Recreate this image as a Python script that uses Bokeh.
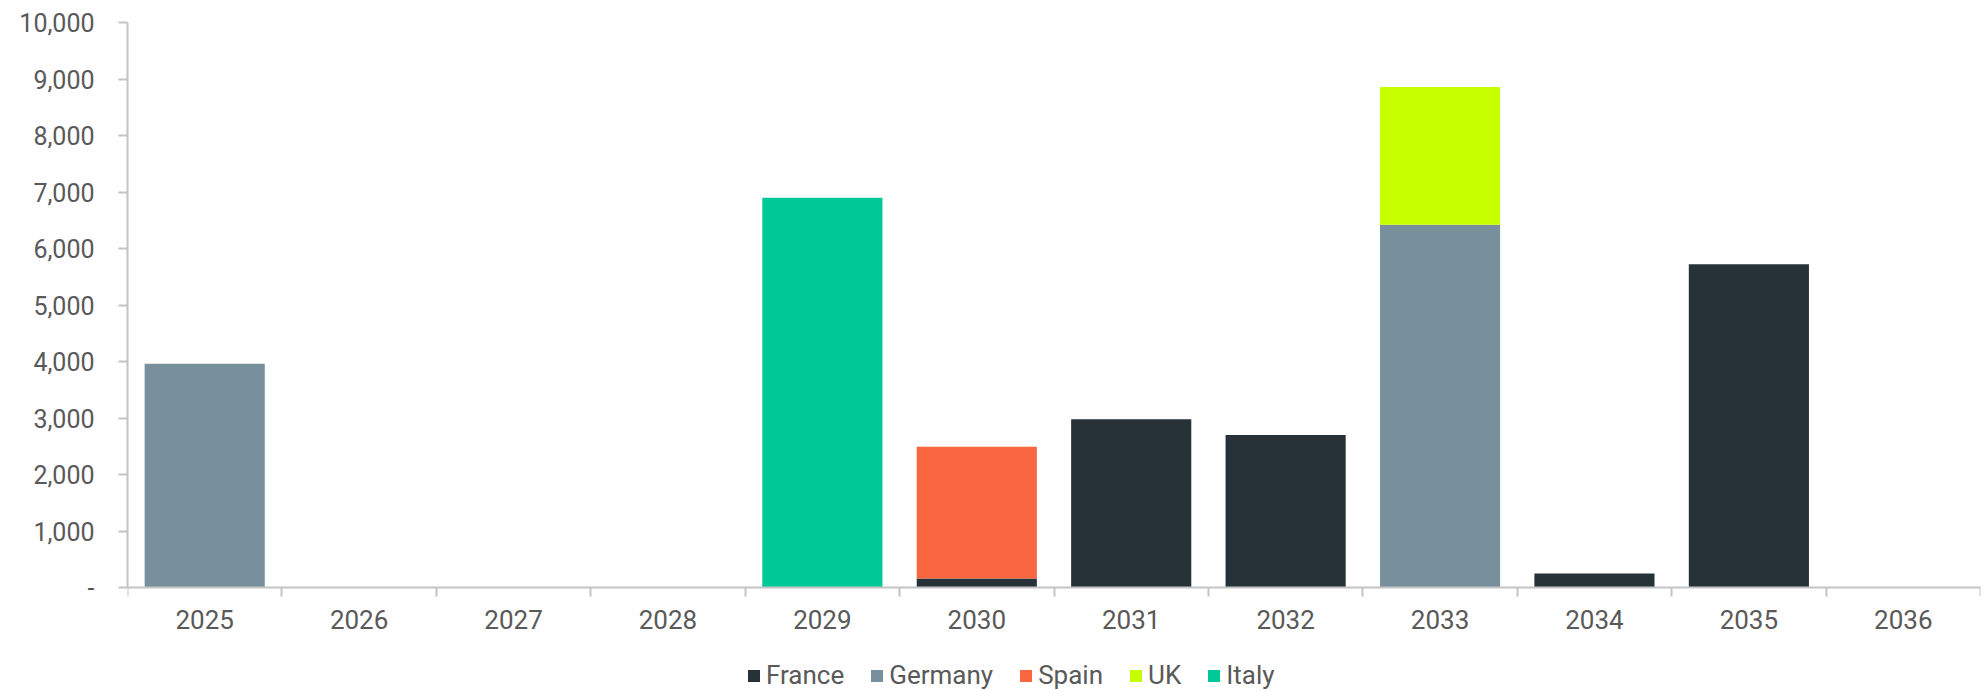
from bokeh.plotting import figure
from bokeh.models import ColumnDataSource, Range1d, FixedTicker, Legend, LegendItem
from bokeh.embed import file_html
from bokeh.resources import INLINE

# ---- data ----
years = ["2025", "2026", "2027", "2028", "2029", "2030",
         "2031", "2032", "2033", "2034", "2035", "2036"]
france = [0, 0, 0, 0, 0, 160, 2980, 2700, 0, 250, 5720, 0]
germany = [3960, 0, 0, 0, 0, 0, 0, 0, 6420, 0, 0, 0]
spain = [0, 0, 0, 0, 0, 2330, 0, 0, 0, 0, 0, 0]
uk = [0, 0, 0, 0, 0, 0, 0, 0, 2440, 0, 0, 0]
italy = [0, 0, 0, 0, 6900, 0, 0, 0, 0, 0, 0, 0]
series = ["France", "Germany", "Spain", "UK", "Italy"]
colors = ["#263238", "#78909c", "#f96640", "#c6ff00", "#00c896"]
y_ticks = [0, 1000, 2000, 3000, 4000, 5000, 6000, 7000, 8000, 9000, 10000]
y_max = 10000

FONT = "Roboto"
TXT = "#595959"
AXC = "#c4c4c4"

# layout (pixels)
W, H = 1984, 691
TOP, LEFT, RIGHT = 22, 127, 4
PLOT_H = 565            # height from value 0 to y_max
below = H - TOP - PLOT_H  # room under the zero line for labels + legend
y_start = -y_max * below / PLOT_H

n = len(years)
centers = [i + 0.5 for i in range(n)]
bounds = [float(i) for i in range(n + 1)]

source = ColumnDataSource(dict(x=centers, France=france, Germany=germany,
                               Spain=spain, UK=uk, Italy=italy))

p = figure(width=W, height=H, x_range=Range1d(0, n), y_range=Range1d(y_start, y_max),
           output_backend="svg", toolbar_location=None,
           min_border_left=LEFT, min_border_right=RIGHT, min_border_top=TOP,
           min_border_bottom=0)
p.outline_line_color = None
p.grid.visible = False
p.background_fill_color = "white"
p.border_fill_color = "white"

renderers = p.vbar_stack(series, x="x", width=0.778, color=colors,
                         line_color=None, source=source)

# x axis drawn on the zero line: labels at centers, ticks at category boundaries
xa = p.xaxis[0]
xa.fixed_location = 0
xa.ticker = FixedTicker(ticks=centers, minor_ticks=bounds)
xa.major_label_overrides = {c: y for c, y in zip(centers, years)}
xa.major_tick_out = 9
xa.major_tick_in = 0
xa.major_tick_line_color = None
xa.minor_tick_out = 9
xa.minor_tick_in = 0
xa.minor_tick_line_color = AXC
xa.minor_tick_line_width = 2
xa.axis_line_color = AXC
xa.axis_line_width = 2
xa.major_label_standoff = 13
xa.major_label_text_font = FONT
xa.major_label_text_font_size = "26px"
xa.major_label_text_color = TXT

ya = p.yaxis[0]
ya.bounds = (0, y_max)
ya.ticker = FixedTicker(ticks=y_ticks)
ya.major_label_overrides = {t: ("-" if t == 0 else f"{t:,}") for t in y_ticks}
ya.major_tick_out = 9
ya.major_tick_in = 0
ya.major_tick_line_color = AXC
ya.major_tick_line_width = 2
ya.minor_tick_line_color = None
ya.axis_line_color = AXC
ya.axis_line_width = 2
ya.major_label_standoff = 24
ya.major_label_text_font = FONT
ya.major_label_text_font_size = "25px"
ya.major_label_text_color = TXT

legend = Legend(items=[LegendItem(label=s, renderers=[r]) for s, r in zip(series, renderers)],
                orientation="horizontal", location=(619, 1),
                glyph_width=15, glyph_height=15, label_standoff=5, spacing=25,
                padding=0, margin=0, border_line_color=None,
                background_fill_alpha=0,
                label_text_font=FONT, label_text_font_size="26px",
                label_text_color=TXT)
p.add_layout(legend)

open("out.html", "w").write(file_html(p, INLINE))
